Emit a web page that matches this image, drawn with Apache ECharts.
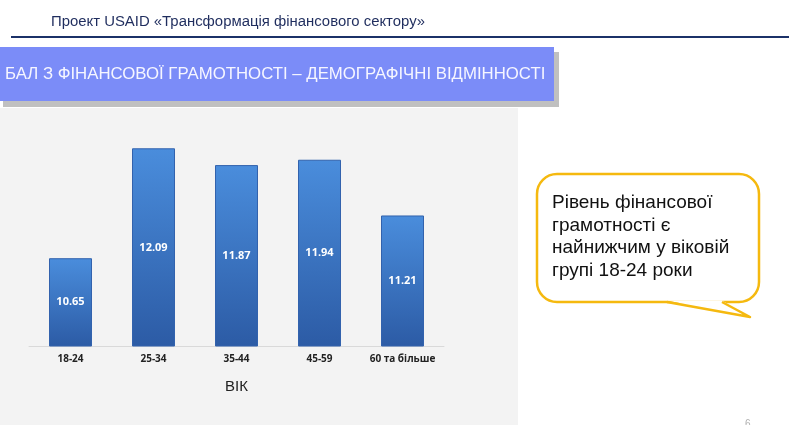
<!DOCTYPE html>
<html>
<head>
<meta charset="utf-8">
<script src="https://cdn.jsdelivr.net/npm/echarts@6/dist/echarts.min.js"></script>
<style>
html,body{margin:0;padding:0;background:#fff;}
#c{width:789px;height:425px;}
</style>
</head>
<body>
<div id="c"></div>
<script>
var categories = ['18-24', '25-34', '35-44', '45-59', '60 та більше'];
var values = [10.65, 12.09, 11.87, 11.94, 11.21];
var headerText = 'Проект USAID «Трансформація фінансового сектору»';
var titleText = 'БАЛ З ФІНАНСОВОЇ ГРАМОТНОСТІ – ДЕМОГРАФІЧНІ ВІДМІННОСТІ';
var axisName = 'ВІК';
var calloutLines = ['Рівень фінансової', 'грамотності є', 'найнижчим у віковій', 'групі 18-24 роки'];

var chart = echarts.init(document.getElementById('c'), null, {renderer: 'canvas'});

var yellow = '#f5b90f';
var graphics = [
  {type: 'rect', z: -10, shape: {x: 0, y: 108, width: 518, height: 317}, style: {fill: '#f3f3f3'}},
  {type: 'text', z: 10, style: {x: 51, y: 22, text: headerText, font: '14.9px "Liberation Sans", Arial, sans-serif', fill: '#1f2d5e', verticalAlign: 'middle'}},
  {type: 'rect', z: 10, shape: {x: 11, y: 36, width: 778, height: 2}, style: {fill: '#1b3168'}},
  {type: 'rect', z: 10, shape: {x: 3, y: 52, width: 556, height: 55}, style: {fill: '#c0c0c0'}},
  {type: 'rect', z: 11, shape: {x: 0, y: 47, width: 554, height: 54}, style: {fill: '#7b8cf8'}},
  {type: 'text', z: 12, style: {x: 5, y: 74, text: titleText, font: '16.8px "Liberation Sans", Arial, sans-serif', fill: '#f6f6ff', verticalAlign: 'middle'}},
  {type: 'rect', z: 10, shape: {x: 537, y: 174, width: 222, height: 128, r: 20}, style: {fill: '#ffffff', stroke: yellow, lineWidth: 2.5}},
  {type: 'polygon', z: 11, shape: {points: [[667, 300.6], [750, 317], [722, 300.6]]}, style: {fill: '#ffffff'}},
  {type: 'polyline', z: 12, shape: {points: [[667, 302], [750, 317], [722, 302]]}, style: {fill: null, stroke: yellow, lineWidth: 2.5, lineJoin: 'round'}},
  {type: 'text', z: 12, style: {x: 745, y: 419, text: '6', font: '10px "Liberation Sans", Arial, sans-serif', fill: '#b0b0b0'}}
];
calloutLines.forEach(function (line, i) {
  graphics.push({type: 'text', z: 13, style: {x: 552, y: 203 + i * 22.5, text: line, font: '19px "Liberation Sans", Arial, sans-serif', fill: '#111111', verticalAlign: 'middle'}});
});

chart.setOption({
  backgroundColor: '#ffffff',
  animation: false,
  graphic: graphics,
  grid: {left: 29, right: 345, top: 117, bottom: 79, containLabel: false},
  xAxis: {
    type: 'category',
    data: categories,
    axisLine: {lineStyle: {color: '#d9d9d9', width: 1}},
    axisTick: {show: false},
    axisLabel: {color: '#222', fontWeight: 'bold', fontSize: 10, fontFamily: '"Open Sans", sans-serif', margin: 8, interval: 0},
    name: axisName,
    nameLocation: 'middle',
    nameGap: 33,
    nameTextStyle: {color: '#222', fontSize: 15, fontFamily: '"Liberation Sans", Arial, sans-serif'}
  },
  yAxis: {
    type: 'value', min: 9.5, max: 12.5, show: false,
    splitLine: {show: false}
  },
  series: [{
    type: 'bar',
    data: values,
    barWidth: 43,
    itemStyle: {
      color: new echarts.graphic.LinearGradient(0, 0, 0, 1, [
        {offset: 0, color: '#4a8ddc'},
        {offset: 1, color: '#2c5ba5'}
      ]),
      borderColor: '#3262ad',
      borderWidth: 1
    },
    label: {
      show: true, position: 'inside', color: '#ffffff', fontWeight: 'bold', fontSize: 11,
      fontFamily: '"Open Sans", sans-serif',
      formatter: function (p) { return p.value.toFixed(2); }
    }
  }]
});
</script>
</body>
</html>
